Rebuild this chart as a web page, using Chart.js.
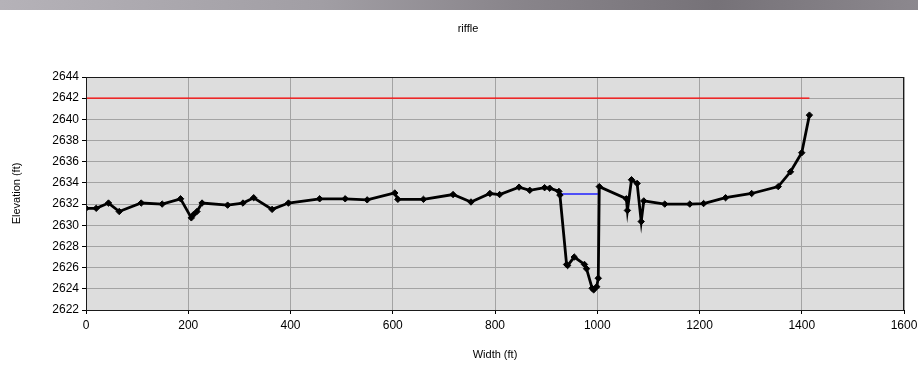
<!DOCTYPE html>
<html>
<head>
<meta charset="utf-8">
<script src="https://cdn.jsdelivr.net/npm/chart.js@4"></script>
<style>
  html, body { margin: 0; padding: 0; background: #fff; }
  #wrap { width: 918px; height: 382px; position: relative; }
</style>
</head>
<body>
<div id="wrap"><canvas id="c" width="918" height="382"></canvas></div>
<script>
// ---- data ----
const chartTitle = "riffle";
const xAxisTitle = "Width (ft)";
const yAxisTitle = "Elevation (ft)";

const widthFt = [0, 20, 44, 65, 108, 149, 185, 206, 210, 217, 227, 277, 307, 328, 364, 396, 457, 507, 550, 604, 610, 660, 718, 753, 790, 809, 847, 868, 897, 907, 925, 927, 940, 942, 955, 975, 979, 990, 993, 999, 1002, 1004, 1057, 1059, 1067, 1078, 1086, 1091, 1132, 1181, 1208, 1251, 1302, 1354, 1378, 1400, 1415];
const elevationFt = [2631.6, 2631.6, 2632.1, 2631.3, 2632.1, 2632.0, 2632.5, 2630.7, 2631.0, 2631.3, 2632.1, 2631.9, 2632.1, 2632.6, 2631.5, 2632.1, 2632.5, 2632.5, 2632.4, 2633.05, 2632.45, 2632.45, 2632.9, 2632.2, 2633.0, 2632.9, 2633.6, 2633.3, 2633.55, 2633.5, 2633.2, 2632.85, 2626.3, 2626.2, 2627.0, 2626.3, 2625.9, 2624.05, 2623.9, 2624.2, 2625.0, 2633.65, 2632.5, 2631.4, 2634.3, 2633.95, 2630.35, 2632.3, 2632.0, 2632.0, 2632.05, 2632.6, 2633.0, 2633.65, 2635.05, 2636.85, 2640.4];

const redLineX = [0, 1415];
const redLineY = [2642, 2642];

const blueLineX = [927, 1004];
const blueLineY = [2632.95, 2632.95];

const xTicks = [0, 200, 400, 600, 800, 1000, 1200, 1400, 1600];
const yTicks = [2622, 2624, 2626, 2628, 2630, 2632, 2634, 2636, 2638, 2640, 2642, 2644];

const zip = (xs, ys) => xs.map((x, i) => ({ x: x, y: ys[i] }));

const FONT = "'Liberation Sans', Arial, sans-serif";

const topBar = {
  id: 'topBar',
  beforeDraw(chart) {
    const ctx = chart.ctx;
    const g = ctx.createLinearGradient(0, 0, chart.width, 0);
    g.addColorStop(0, '#b5b2b8');
    g.addColorStop(0.35, '#a19ea4');
    g.addColorStop(0.55, '#8a868c');
    g.addColorStop(0.78, '#767278');
    g.addColorStop(1, '#8c888e');
    ctx.save();
    ctx.fillStyle = g;
    ctx.fillRect(0, 0, chart.width, 10);
    ctx.fillStyle = '#000';
    ctx.font = '11px ' + FONT;
    ctx.textAlign = 'center';
    ctx.textBaseline = 'middle';
    ctx.fillText(chartTitle, 468, 29);
    ctx.restore();
  }
};

const plotBg = {
  id: 'plotBg',
  beforeDraw(chart) {
    const a = chart.chartArea, ctx = chart.ctx;
    ctx.save();
    ctx.fillStyle = '#dddddd';
    ctx.fillRect(a.left, a.top, a.right - a.left, a.bottom - a.top);
    ctx.restore();
  },
  afterDraw(chart) {
    const a = chart.chartArea, ctx = chart.ctx;
    ctx.save();
    ctx.strokeStyle = '#1a1a1a';
    ctx.lineWidth = 1;
    ctx.strokeRect(Math.round(a.left) + 0.5, Math.round(a.top) + 0.5,
                   Math.round(a.right - a.left) - 1, Math.round(a.bottom - a.top));
    ctx.restore();
  }
};

new Chart(document.getElementById('c'), {
  type: 'scatter',
  data: {
    datasets: [
      {
        data: zip(widthFt, elevationFt),
        showLine: true,
        borderColor: '#000000',
        backgroundColor: '#000000',
        borderWidth: 2.8,
        pointStyle: 'rectRot',
        pointRadius: 3.2,
        pointBorderWidth: 1,
        tension: 0
      },
      {
        data: zip(blueLineX, blueLineY),
        showLine: true,
        borderColor: '#1f1fff',
        borderWidth: 1.6,
        pointRadius: 0
      },
      {
        data: zip(redLineX, redLineY),
        showLine: true,
        borderColor: '#ff0000',
        borderWidth: 1.3,
        pointRadius: 0
      }
    ]
  },
  options: {
    responsive: false,
    animation: false,
    devicePixelRatio: 1,
    layout: { padding: { left: 0, right: 14, top: 77, bottom: 0 } },
    plugins: {
      legend: { display: false },
      tooltip: { enabled: false },
      title: { display: false }
    },
    scales: {
      x: {
        type: 'linear',
        min: 0, max: 1600,
        afterFit(s) { s.height = 72; s.paddingRight = 0; s.paddingLeft = 0; },
        afterBuildTicks(s) { s.ticks = xTicks.map(v => ({ value: v })); },
        grid: { color: '#a3a3a3', lineWidth: 1, tickLength: 4, tickColor: '#000', drawTicks: true },
        border: { display: false },
        ticks: { color: '#000', font: { family: FONT, size: 12 }, padding: 4, maxRotation: 0,
                 callback: v => String(v) },
        title: { display: true, text: xAxisTitle, color: '#000', font: { family: FONT, size: 11 }, padding: { top: 0, bottom: 20 } }
      },
      y: {
        type: 'linear',
        min: 2622, max: 2644,
        afterFit(s) { s.width = 86; s.paddingTop = 0; s.paddingBottom = 0; },
        afterBuildTicks(s) { s.ticks = yTicks.map(v => ({ value: v })); },
        grid: { color: '#a3a3a3', lineWidth: 1, tickLength: 4, tickColor: '#000', drawTicks: true },
        border: { display: false },
        ticks: { color: '#000', font: { family: FONT, size: 12 }, padding: 3,
                 callback: v => String(v) },
        title: { display: true, text: yAxisTitle, color: '#000', font: { family: FONT, size: 11 }, padding: { top: 10, bottom: 0 } }
      }
    }
  },
  plugins: [topBar, plotBg]
});
</script>
</body>
</html>
